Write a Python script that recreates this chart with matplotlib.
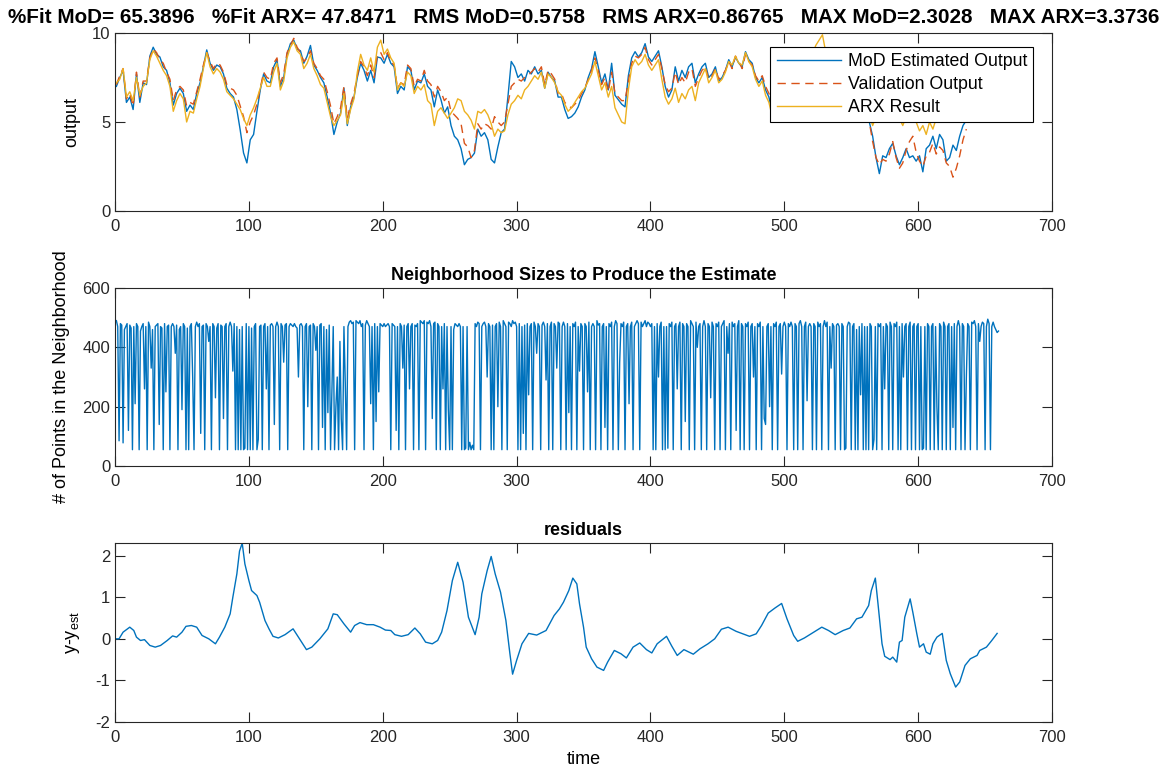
import numpy as np
import matplotlib
matplotlib.use("Agg")
import matplotlib.pyplot as plt

plt.rcParams['font.family'] = ['Liberation Sans', 'DejaVu Sans']
plt.rcParams['mathtext.fontset'] = 'custom'
plt.rcParams['mathtext.rm'] = 'Liberation Sans'
plt.rcParams['mathtext.it'] = 'Liberation Sans'
plt.rcParams['axes.unicode_minus'] = False

# MATLAB default line colours
c_mod = '#0072BD'
c_val = '#D95319'
c_arx = '#EDB120'
axcol = '#262626'

# fit statistics
fit_mod, fit_arx = 65.3896, 47.8471
rms_mod, rms_arx = 0.5758, 0.86765
max_mod, max_arx = 2.3028, 3.3736

# output series, one value every 2.5 samples starting at t=1
mod_out = [
    7.0, 7.5, 7.9, 6.1, 6.4, 5.7, 7.7, 6.1, 7.2, 7.1,
    8.7, 9.2, 8.8, 8.65, 8.1, 7.9, 7.2, 5.95, 6.6, 6.9,
    6.6, 5.6, 5.95, 5.7, 6.6, 7.2, 8.1, 9.05, 8.3, 7.9,
    8.2, 8.1, 7.7, 6.9, 6.6, 6.4, 5.7, 4.55, 3.26, 2.7,
    4.0, 4.3, 5.6, 6.8, 7.7, 7.3, 7.2, 8.1, 8.5, 7.0,
    7.5, 8.8, 9.4, 9.6, 9.1, 9.0, 8.3, 8.7, 9.3, 8.2,
    7.9, 7.5, 7.2, 6.4, 5.5, 4.3, 5.0, 5.5, 6.9, 4.8,
    5.85, 6.4, 7.5, 8.3, 7.9, 7.3, 7.9, 7.2, 8.65, 8.6,
    8.3, 8.8, 8.3, 8.1, 6.6, 7.0, 6.8, 8.1, 7.9, 6.8,
    7.3, 7.2, 7.7, 7.0, 6.8, 5.85, 6.8, 6.25, 5.5, 5.85,
    4.8, 4.2, 4.0, 3.5, 2.6, 2.9, 3.0, 3.25, 4.6, 4.2,
    4.4, 4.0, 2.9, 2.7, 3.6, 4.4, 4.6, 6.4, 8.4, 8.1,
    7.5, 7.7, 7.3, 7.9, 7.7, 8.1, 7.7, 7.9, 6.9, 7.8,
    7.5, 7.3, 6.4, 6.4, 5.7, 5.2, 5.3, 5.5, 5.85, 6.4,
    6.8, 7.5, 8.0, 8.95, 8.1, 7.2, 7.7, 6.8, 8.3, 6.5,
    6.25, 6.0, 5.85, 7.6, 8.6, 8.95, 8.65, 8.9, 9.4, 8.65,
    8.4, 8.7, 9.0, 8.1, 7.0, 6.4, 6.8, 8.1, 7.3, 7.9,
    7.5, 8.1, 8.3, 7.2, 7.7, 8.1, 8.3, 7.5, 7.7, 8.1,
    7.3, 7.5, 7.9, 8.5, 8.1, 8.65, 8.3, 8.1, 8.95, 8.5,
    8.3, 7.5, 7.2, 7.5, 6.8, 6.4, 5.5, 6.0, 6.6, 7.2,
    6.8, 7.4, 7.9, 7.5, 8.0, 7.6, 8.2, 8.5, 8.0, 8.4,
    8.8, 8.3, 7.9, 8.2, 7.6, 7.2, 7.5, 6.9, 7.3, 6.8,
    6.3, 6.6, 6.0, 5.7, 5.4, 5.0, 4.2, 3.0, 2.1, 3.1,
    3.0, 3.5, 3.8, 3.1, 2.6, 3.0, 3.5, 3.0, 3.1, 2.8,
    3.1, 2.2, 3.5, 3.7, 4.2, 3.5, 4.3, 4.0, 2.8, 3.0,
    3.7, 3.4, 4.2, 4.8, 5.1,
]
val_out = [
    7.1, 7.6, 8.0, 6.3, 6.6, 5.9, 7.8, 6.4, 7.3, 7.3,
    8.6, 9.1, 8.9, 8.5, 8.3, 7.8, 7.4, 6.2, 6.8, 7.0,
    6.8, 5.9, 6.1, 6.0, 6.7, 7.4, 8.2, 8.9, 8.4, 8.0,
    8.3, 8.2, 7.8, 7.1, 6.9, 6.8, 6.5, 5.9, 5.3, 4.4,
    5.0, 5.4, 6.0, 6.9, 7.8, 7.5, 7.4, 8.3, 8.6, 7.2,
    7.7, 8.9, 9.3, 9.7, 9.2, 8.9, 8.4, 8.6, 9.0, 8.3,
    8.0, 7.6, 7.4, 6.7, 5.9, 4.9, 5.3, 5.8, 7.0, 5.2,
    6.0, 6.6, 7.6, 8.4, 8.1, 7.6, 8.2, 7.5, 8.8, 8.9,
    8.5, 8.9, 8.4, 8.2, 6.9, 7.2, 7.1, 8.2, 8.0, 7.0,
    7.4, 7.3, 7.9, 7.3, 7.1, 6.4, 7.0, 6.7, 6.2, 6.4,
    5.6, 5.4, 5.2, 4.9, 3.8, 3.6, 3.0, 3.4, 4.9, 4.6,
    4.9, 4.8, 4.6, 5.3, 5.0, 4.8, 5.0, 6.0, 7.0, 7.2,
    7.4, 7.3, 7.5, 7.6, 7.8, 8.0, 7.8, 8.1, 7.1, 7.9,
    7.7, 7.4, 6.6, 6.6, 6.1, 5.9, 5.8, 6.0, 6.2, 6.6,
    6.9, 7.4, 7.9, 8.6, 7.9, 7.1, 7.5, 6.7, 7.8, 6.6,
    6.4, 6.2, 6.2, 7.3, 8.3, 8.7, 8.6, 8.8, 9.2, 8.5,
    8.2, 8.5, 8.8, 8.0, 7.1, 6.7, 6.9, 7.8, 7.1, 7.5,
    7.2, 7.8, 8.0, 7.0, 7.5, 7.9, 8.1, 7.4, 7.6, 8.0,
    7.4, 7.6, 7.9, 8.4, 8.0, 8.7, 8.4, 8.0, 8.8, 8.4,
    8.2, 7.6, 7.3, 7.6, 7.0, 6.6, 5.9, 6.2, 6.8, 7.3,
    7.0, 7.5, 8.0, 7.7, 8.1, 7.8, 8.3, 8.6, 8.2, 8.6,
    8.9, 8.5, 8.1, 8.3, 7.8, 7.4, 7.6, 7.1, 7.4, 7.0,
    6.5, 6.7, 6.2, 5.8, 5.5, 5.0, 3.9, 3.0, 2.6, 2.9,
    2.8, 3.2, 3.9, 3.0, 2.4, 2.7, 3.4, 3.9, 4.2, 3.3,
    2.8, 2.5, 3.1, 3.3, 3.8, 3.2, 3.6, 3.4, 2.7, 2.5,
    1.9, 2.4, 3.1, 4.0, 4.6,
]
arx_out = [
    7.2, 7.4, 8.0, 6.4, 6.7, 6.2, 7.5, 6.5, 7.0, 7.2,
    8.5, 9.0, 8.7, 8.3, 7.9, 7.6, 7.0, 5.6, 6.2, 6.6,
    6.3, 5.0, 5.6, 5.5, 6.3, 7.0, 8.0, 8.9, 8.1, 7.7,
    8.0, 7.8, 7.4, 6.7, 6.5, 6.3, 6.0, 5.7, 5.2, 4.8,
    5.4, 5.8, 6.3, 6.9, 7.5, 7.0, 7.0, 7.8, 8.3, 6.8,
    7.3, 8.6, 9.2, 9.5, 9.0, 8.8, 8.0, 8.3, 8.8, 8.0,
    7.6, 7.1, 6.9, 6.1, 5.3, 4.8, 5.1, 5.4, 6.6, 4.9,
    5.7, 6.3, 7.8, 8.8, 8.2, 7.9, 8.6, 7.8, 9.2, 9.6,
    8.8, 9.1, 8.6, 8.3, 6.8, 7.2, 7.0, 7.8, 7.6, 6.6,
    7.0, 6.8, 7.1, 6.2, 6.0, 4.8, 5.6, 5.8, 5.5, 5.2,
    5.5, 5.8, 6.3, 6.2, 5.6, 5.4, 5.1, 4.6, 5.6, 5.5,
    5.7, 5.4, 4.9, 4.2, 4.6, 4.4, 4.5, 5.4, 6.0, 6.2,
    6.5, 6.3, 6.8, 7.0, 7.3, 7.6, 7.4, 7.8, 6.9, 7.7,
    7.5, 7.2, 6.7, 6.5, 6.0, 5.6, 5.8, 6.1, 6.4, 6.7,
    6.9, 7.3, 7.7, 8.4, 7.6, 6.8, 7.2, 6.4, 7.0, 5.8,
    5.4, 5.0, 4.9, 6.8, 8.1, 8.5, 8.2, 8.4, 8.8, 8.2,
    7.9, 8.2, 8.5, 7.4, 6.4, 6.0, 6.3, 6.9, 6.1, 6.6,
    6.3, 6.8, 7.0, 6.2, 7.2, 7.6, 8.0, 7.2, 7.5, 7.9,
    7.2, 7.4, 7.8, 8.4, 8.2, 8.7, 8.3, 8.2, 8.9, 8.4,
    8.1, 7.4, 7.0, 7.3, 6.5, 6.1, 5.3, 6.0, 6.8, 7.4,
    7.2, 7.8, 8.3, 8.0, 8.5, 8.2, 8.7, 9.0, 8.8, 9.3,
    9.6, 9.9, 8.9, 8.5, 8.0, 7.6, 7.8, 7.3, 7.5, 7.1,
    6.7, 6.9, 6.4, 6.0, 5.8, 5.4, 4.8, 5.3, 5.6, 5.9,
    5.5, 5.8, 6.1, 5.6, 5.2, 4.8, 5.3, 5.7, 5.4, 5.0,
    4.5, 4.8, 4.3, 5.0, 4.6, 5.2, 5.5, 5.8, 5.4, 5.9,
    6.2, 5.8, 6.4, 6.0, 6.5,
]

# neighbourhood size for every sample t = 1 .. 660
nbhd_size = [
    490, 470, 85, 480, 475, 78, 460, 470, 480, 120,
    475, 465, 55, 470, 210, 480, 470, 55, 455, 470,
    480, 260, 470, 55, 485, 470, 330, 460, 55, 470,
    475, 480, 140, 470, 465, 55, 480, 250, 470, 475,
    55, 470, 480, 470, 380, 475, 55, 460, 470, 190,
    480, 470, 55, 465, 55, 470, 480, 300, 55, 470,
    485, 470, 480, 110, 470, 475, 55, 480, 470, 420,
    470, 55, 480, 470, 230, 465, 480, 55, 475, 470,
    160, 470, 480, 55, 470, 485, 470, 320, 480, 55,
    470, 55, 460, 55, 470, 55, 60, 480, 55, 470,
    55, 465, 55, 470, 480, 55, 90, 470, 475, 55,
    470, 480, 260, 470, 55, 475, 480, 470, 140, 470,
    485, 470, 55, 480, 470, 350, 475, 480, 55, 470,
    480, 475, 470, 480, 470, 465, 300, 475, 480, 470,
    55, 470, 480, 200, 470, 475, 55, 480, 470, 390,
    470, 55, 475, 480, 130, 470, 55, 460, 180, 475,
    55, 250, 470, 55, 200, 300, 55, 420, 160, 55,
    470, 280, 55, 470, 485, 490, 480, 485, 55, 490,
    485, 480, 490, 470, 480, 55, 475, 490, 480, 470,
    210, 470, 55, 480, 150, 470, 250, 480, 475, 470,
    480, 470, 475, 480, 470, 55, 480, 475, 470, 120,
    470, 55, 480, 470, 330, 475, 55, 470, 480, 260,
    470, 480, 55, 475, 470, 480, 55, 490, 485, 480,
    490, 55, 485, 480, 490, 470, 160, 480, 485, 55,
    480, 470, 55, 470, 260, 480, 55, 470, 190, 55,
    470, 55, 460, 480, 475, 470, 480, 470, 55, 470,
    55, 60, 470, 55, 80, 55, 70, 55, 480, 470,
    485, 480, 55, 470, 480, 485, 470, 300, 480, 470,
    55, 475, 55, 470, 480, 200, 485, 470, 55, 490,
    480, 470, 55, 485, 480, 470, 490, 480, 485, 470,
    55, 480, 55, 470, 110, 475, 55, 480, 240, 470,
    480, 55, 485, 470, 380, 480, 470, 55, 475, 485,
    470, 290, 480, 55, 470, 485, 55, 480, 470, 330,
    485, 480, 55, 470, 485, 470, 55, 480, 180, 470,
    55, 480, 470, 485, 55, 470, 320, 480, 470, 55,
    480, 470, 250, 485, 55, 470, 480, 470, 55, 490,
    475, 480, 55, 470, 480, 130, 470, 55, 480, 470,
    485, 55, 470, 490, 480, 55, 350, 480, 470, 485,
    55, 470, 480, 210, 470, 485, 55, 470, 480, 490,
    480, 55, 485, 470, 480, 490, 470, 485, 480, 470,
    480, 55, 470, 55, 480, 300, 470, 485, 55, 470,
    55, 470, 60, 480, 470, 485, 55, 470, 480, 260,
    470, 485, 55, 480, 470, 150, 480, 470, 55, 490,
    480, 470, 55, 485, 400, 470, 480, 55, 470, 490,
    470, 55, 480, 470, 230, 485, 470, 55, 480, 470,
    485, 55, 470, 480, 490, 55, 470, 380, 480, 55,
    485, 470, 480, 120, 470, 490, 55, 480, 470, 55,
    480, 470, 485, 55, 470, 480, 300, 470, 55, 480,
    470, 485, 55, 470, 160, 140, 470, 480, 200, 470,
    55, 480, 470, 485, 55, 470, 480, 310, 470, 485,
    470, 55, 480, 470, 485, 470, 55, 480, 470, 55,
    480, 490, 470, 55, 470, 485, 220, 470, 480, 470,
    55, 480, 470, 55, 485, 470, 480, 55, 470, 490,
    470, 485, 55, 470, 330, 480, 470, 55, 475, 480,
    470, 55, 480, 470, 55, 60, 470, 485, 480, 55,
    470, 480, 55, 460, 55, 470, 240, 480, 55, 470,
    55, 470, 55, 480, 470, 55, 90, 470, 55, 480,
    470, 480, 55, 470, 260, 480, 470, 55, 485, 470,
    55, 480, 470, 485, 55, 470, 55, 480, 300, 470,
    480, 55, 470, 485, 55, 470, 480, 55, 470, 480,
    55, 470, 55, 60, 470, 55, 480, 470, 55, 470,
    480, 55, 470, 200, 55, 480, 470, 55, 485, 470,
    55, 470, 480, 55, 470, 130, 480, 55, 470, 490,
    470, 55, 480, 470, 55, 300, 480, 470, 55, 485,
    480, 490, 470, 55, 480, 420, 470, 485, 480, 55,
    470, 495, 480, 55, 470, 485, 470, 460, 450, 455,
]

# residuals y - y_est
res_time = [
    1, 3, 6, 11, 14, 16, 19, 22, 26, 30, 34, 39, 43, 46, 50, 53, 57, 61, 65, 70,
    75, 78, 82, 86, 88, 91, 93, 95, 97, 100, 102, 106, 108, 112, 115, 118, 122, 127, 133, 137,
    141, 143, 147, 153, 159, 163, 166, 171, 176, 179, 183, 188, 193, 198, 202, 206, 209, 214, 219, 224,
    228, 232, 237, 241, 244, 248, 252, 256, 260, 264, 269, 272, 274, 278, 281, 284, 288, 292, 295, 297,
    300, 304, 309, 315, 322, 328, 332, 335, 339, 342, 345, 347, 350, 352, 356, 360, 365, 368, 373, 378,
    382, 387, 392, 397, 401, 405, 412, 416, 420, 425, 432, 437, 443, 448, 453, 458, 464, 469, 474, 479,
    483, 488, 493, 498, 502, 507, 510, 515, 520, 528, 533, 538, 544, 549, 554, 558, 563, 565, 568, 570,
    573, 575, 579, 581, 584, 586, 588, 590, 594, 596, 599, 601, 604, 606, 609, 611, 614, 618, 621, 624,
    628, 631, 635, 639, 644, 646, 651, 655, 659,
]
res_value = [
    0.0, 0.0, 0.16, 0.28, 0.2, 0.04, -0.04, -0.02, -0.16, -0.2, -0.16, -0.04, 0.07, 0.04, 0.16, 0.3, 0.32, 0.28, 0.08, 0.0,
    -0.12, 0.04, 0.28, 0.6, 1.0, 1.56, 2.11, 2.30, 1.8, 1.4, 1.16, 1.04, 0.88, 0.44, 0.24, 0.06, 0.02, 0.1, 0.24, 0.04,
    -0.16, -0.26, -0.2, 0.0, 0.24, 0.6, 0.58, 0.36, 0.16, 0.32, 0.39, 0.34, 0.34, 0.28, 0.21, 0.2, 0.1, 0.06, 0.1, 0.26,
    0.12, -0.08, -0.12, -0.04, 0.16, 0.68, 1.4, 1.84, 1.36, 0.52, 0.1, 0.52, 1.08, 1.64, 1.98, 1.56, 1.12, 0.44, -0.36, -0.85,
    -0.52, -0.12, 0.13, 0.09, 0.2, 0.56, 0.72, 0.88, 1.16, 1.46, 1.32, 0.84, 0.28, -0.2, -0.48, -0.68, -0.76, -0.56, -0.28, -0.36,
    -0.46, -0.2, -0.1, -0.26, -0.34, -0.12, 0.06, -0.18, -0.4, -0.26, -0.37, -0.24, -0.12, 0.0, 0.23, 0.28, 0.18, 0.12, 0.06, 0.12,
    0.32, 0.62, 0.74, 0.85, 0.48, 0.08, -0.06, 0.02, 0.12, 0.28, 0.2, 0.1, 0.2, 0.26, 0.48, 0.52, 0.8, 1.16, 1.46, 0.84,
    -0.12, -0.42, -0.5, -0.44, -0.56, -0.08, -0.04, 0.52, 0.96, 0.64, 0.12, -0.2, -0.12, -0.32, -0.37, -0.12, 0.04, 0.13, -0.52, -0.84,
    -1.16, -1.04, -0.64, -0.48, -0.4, -0.28, -0.2, -0.04, 0.13,
]

t_out = 1 + 2.5 * np.arange(len(mod_out))
t_nb = 1 + np.arange(len(nbhd_size))


def style_axes(ax):
    ax.set_xlim(0, 700)
    ax.set_xticks(range(0, 701, 100))
    ax.tick_params(direction='in', top=True, right=True, length=7, width=0.8,
                   labelsize=12, colors=axcol)
    ax.tick_params(axis='x', pad=6)
    for s in ax.spines.values():
        s.set_color(axcol)
        s.set_linewidth(0.8)


fig = plt.figure(figsize=(11.68, 7.78), dpi=100)

# outputs
ax1 = fig.add_axes([0.0985, 0.7288, 0.8022, 0.2288])
ax1.plot(t_out, mod_out, color=c_mod, lw=1.0, label='MoD Estimated Output')
ax1.plot(t_out, val_out, color=c_val, lw=1.0, ls=(0, (6, 4)), label='Validation Output')
ax1.plot(t_out, arx_out, color=c_arx, lw=1.0, label='ARX Result')
ax1.set_ylim(0, 10)
ax1.set_yticks([0, 5, 10])
style_axes(ax1)
ax1.set_ylabel('output', fontsize=13)
ax1.yaxis.set_label_coords(-0.037, 0.5)
ax1.set_title(f'%Fit MoD= {fit_mod}   %Fit ARX= {fit_arx}   RMS MoD={rms_mod}   '
              f'RMS ARX={rms_arx}   MAX MoD={max_mod}   MAX ARX={max_arx}',
              fontsize=14.9, fontweight='bold', pad=7)
leg = ax1.legend(loc='upper right', bbox_to_anchor=(0.98, 0.921), fontsize=12.8,
                 fancybox=False, framealpha=1, edgecolor='black', handlelength=3.65,
                 handletextpad=0.35, borderpad=0.35, labelspacing=0.33, borderaxespad=0)
leg.get_frame().set_linewidth(0.8)

# neighbourhood sizes
ax2 = fig.add_axes([0.0985, 0.401, 0.8022, 0.2288])
ax2.plot(t_nb, nbhd_size, color=c_mod, lw=1.0)
ax2.set_ylim(0, 600)
ax2.set_yticks([0, 200, 400, 600])
style_axes(ax2)
ax2.set_ylabel('# of Points in the Neighborhood', fontsize=13)
ax2.yaxis.set_label_coords(-0.048, 0.5)
ax2.set_title('Neighborhood Sizes to Produce the Estimate', fontsize=13,
              fontweight='bold', pad=6)

# residuals
ax3 = fig.add_axes([0.0985, 0.072, 0.8022, 0.230])
ax3.plot(res_time, res_value, color=c_mod, lw=1.0)
ax3.set_ylim(-2, max_mod)
ax3.set_yticks([-2, -1, 0, 1, 2])
style_axes(ax3)
ax3.set_ylabel(r'y-y$_{\mathrm{est}}$', fontsize=13)
ax3.yaxis.set_label_coords(-0.035, 0.5)
ax3.set_xlabel('time', fontsize=13)
ax3.set_title('residuals', fontsize=13, fontweight='bold', pad=6)

fig.savefig('out.png', dpi=100)
